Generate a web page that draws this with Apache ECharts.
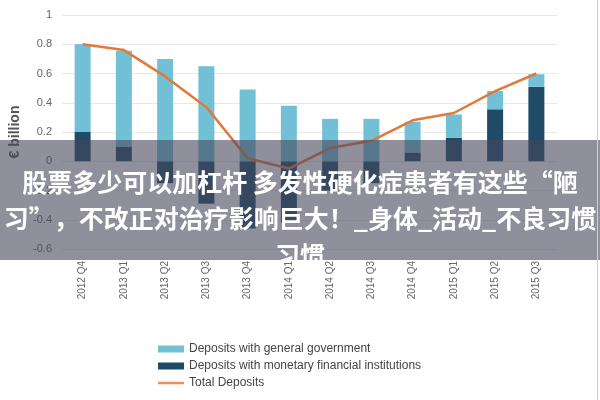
<!DOCTYPE html>
<html>
<head>
<meta charset="utf-8">
<script src="https://cdn.jsdelivr.net/npm/echarts@6/dist/echarts.min.js"></script>
<style>html,body{margin:0;padding:0;background:#fff}#c{width:600px;height:400px}</style>
</head>
<body>
<div id="c"></div>
<script>
const categories = ['2012 Q4','2013 Q1','2013 Q2','2013 Q3','2013 Q4','2014 Q1','2014 Q2','2014 Q3','2014 Q4','2015 Q1','2015 Q2','2015 Q3'];
const govDeposits = [0.6, 0.655, 0.70, 0.65, 0.49, 0.38, 0.29, 0.29, 0.21, 0.16, 0.125, 0.085];
const mfiDeposits = [0.2, 0.1, -0.15, -0.29, -0.46, -0.42, -0.2, -0.15, 0.06, 0.16, 0.355, 0.51];
const totalDeposits = [0.8, 0.76, 0.58, 0.37, 0.02, -0.05, 0.09, 0.14, 0.28, 0.33, 0.48, 0.6];
const overlayLines = ['股票多少可以加杠杆 多发性硬化症患者有这些“陋', '习”，不改正对治疗影响巨大！_身体_活动_不良习惯', '习惯'];

const chart = echarts.init(document.getElementById('c'));
const font = "'Liberation Sans', sans-serif";
chart.setOption({
  animation: false,
  grid: { left: 62, right: 43, top: 15, bottom: 151, containLabel: false },
  legend: {
    orient: 'vertical', left: 153, top: 338, itemWidth: 26, itemHeight: 7, itemGap: 5,
    textStyle: { fontFamily: font, fontSize: 12, color: '#444' },
    data: [
      { name: 'Deposits with general government', icon: 'rect' },
      { name: 'Deposits with monetary financial institutions', icon: 'rect' },
      { name: 'Total Deposits', icon: 'path://M0,0 L26,0 L26,2.5 L0,2.5 Z' }
    ]
  },
  xAxis: {
    type: 'category', data: categories, z: 10,
    axisLine: { show: false }, axisTick: { show: false },
    axisLabel: { rotate: 90, margin: 12, fontSize: 10, color: '#666', fontFamily: font }
  },
  yAxis: {
    type: 'value', min: -0.6, max: 1, interval: 0.2,
    name: '€ billion', nameLocation: 'middle', nameRotate: 90, nameGap: 37,
    nameTextStyle: { fontFamily: font, fontSize: 14, fontWeight: 'bold', color: '#555' },
    axisLine: { show: false }, axisTick: { show: false },
    axisLabel: { fontSize: 11, color: '#666', fontFamily: font, margin: 10,
      formatter: v => String(Math.round(v * 10) / 10) },
    splitLine: { lineStyle: { color: '#e8e8e8' } }
  },
  series: [
    { name: 'Deposits with monetary financial institutions', type: 'bar', stack: 'dep', barWidth: 16,
      itemStyle: { color: '#1f4b66' }, data: mfiDeposits },
    { name: 'Deposits with general government', type: 'bar', stack: 'dep', barWidth: 16,
      itemStyle: { color: '#72c0d6' }, data: govDeposits },
    { name: 'Total Deposits', type: 'line', symbol: 'none', z: 3,
      lineStyle: { color: '#e07a3a', width: 2.5 }, itemStyle: { color: '#e8915a' }, data: totalDeposits }
  ],
  graphic: [
    { type: 'rect', z: 5, shape: { x: 0, y: 140, width: 600, height: 120 }, style: { fill: 'rgba(70,70,92,0.6)' } },
    { type: 'text', z: 5, x: 300, y: 182, style: { text: overlayLines[0], fill: '#fff', font: "bold 25px 'Noto Sans CJK SC'", textAlign: 'center', textVerticalAlign: 'middle' } },
    { type: 'text', z: 5, x: 300, y: 218, style: { text: overlayLines[1], fill: '#fff', font: "bold 25px 'Noto Sans CJK SC'", textAlign: 'center', textVerticalAlign: 'middle' } },
    { type: 'text', z: 5, x: 300, y: 255, style: { text: overlayLines[2], fill: '#fff', font: "bold 25px 'Noto Sans CJK SC'", textAlign: 'center', textVerticalAlign: 'middle' } },
    { type: 'rect', z: 6, shape: { x: 0, y: 260, width: 600, height: 12 }, style: { fill: '#fff' } },
    { type: 'line', z: 6, shape: { x1: 597.5, y1: 0, x2: 597.5, y2: 400 }, style: { stroke: '#cfcfcf', lineWidth: 1 } }
  ]
});
</script>
</body>
</html>
